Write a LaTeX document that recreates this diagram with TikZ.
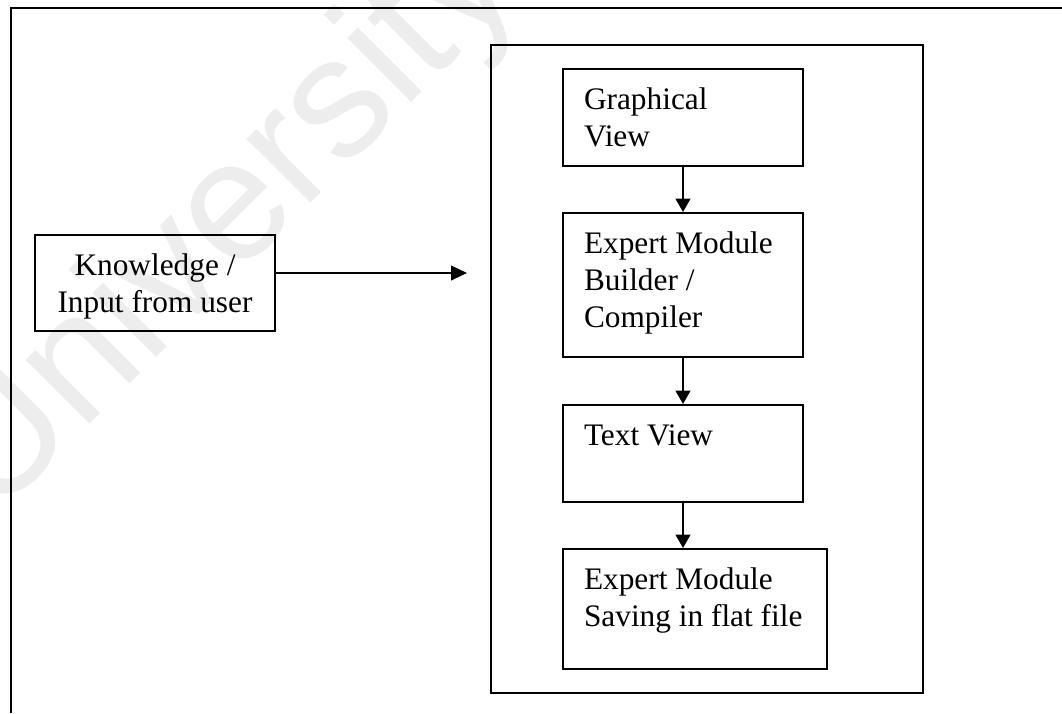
\documentclass[tikz,border=0pt]{standalone}
\usepackage{fontspec}
\setmainfont{Liberation Serif}
\newfontfamily\wmfont{Liberation Sans}
\usetikzlibrary{arrows.meta}

% text set at the top left of a box of fixed size
\newcommand{\toptext}[3]{\parbox[t][#1][t]{#2}{\raggedright\strut #3}}
\newcommand{\midtext}[3]{\parbox[t][#1][t]{#2}{\centering\strut #3}}

\tikzset{
  boxed/.style={draw, line width=1.5pt, rectangle, inner xsep=15.75pt, inner ysep=11.3pt},
  frame/.style={draw, line width=1.5pt, rectangle, inner sep=0pt},
  arr/.style={line width=1.5pt, -{Triangle[length=10pt,width=11pt]}},
  harr/.style={line width=1.5pt, -{Triangle[length=12pt,width=11pt]}},
  wm/.style={font=\wmfont\fontsize{128pt}{134pt}\selectfont, text=black!7, inner sep=0pt},
}

\begin{document}
\begin{tikzpicture}[x=0.75pt, y=-0.75pt,
  font=\fontsize{23.5pt}{27.75pt}\selectfont]
  \useasboundingbox (0,0) rectangle (1062,713);
  \fill[white] (0,0) rectangle (1062,713);

  % watermark
  \begin{scope}
    \clip (0,0) rectangle (1062,713);
    \node[wm, rotate=45, anchor=base west] (wmark) at (-6,520) {University};
  \end{scope}

  % outer page frame (top and left edges)
  \draw[line width=1.5pt] (1062,8) -- (11,8) -- (11,713);

  % container of the pipeline
  \node[frame, minimum width=324pt, minimum height=486pt] (inner) at (707,369) {};

  % input box
  \node[boxed] (know) at (155,283)
    {\midtext{49.4pt}{148.5pt}{Knowledge /\\Input from user}};

  % pipeline boxes
  \node[boxed] (gv) at (683,117.5)
    {\toptext{50.15pt}{148.5pt}{Graphical\\View}};
  \node[boxed] (emb) at (683,285)
    {\toptext{85.4pt}{148.5pt}{Expert Module\\Builder /\\Compiler}};
  \node[boxed] (tv) at (683,453.5)
    {\toptext{50.15pt}{148.5pt}{Text View}};
  \node[boxed] (sav) at (695,609)
    {\toptext{67.4pt}{166.5pt}{Expert Module\\Saving in flat file}};

  % connectors
  \coordinate (tip) at (467,273);
  \draw[harr] (know.east |- tip) -- (tip);
  \draw[arr] (gv.south) -- (emb.north);
  \draw[arr] (emb.south) -- (tv.north);
  \draw[arr] (tv.south) -- (tv.south |- sav.north);
\end{tikzpicture}
\end{document}
